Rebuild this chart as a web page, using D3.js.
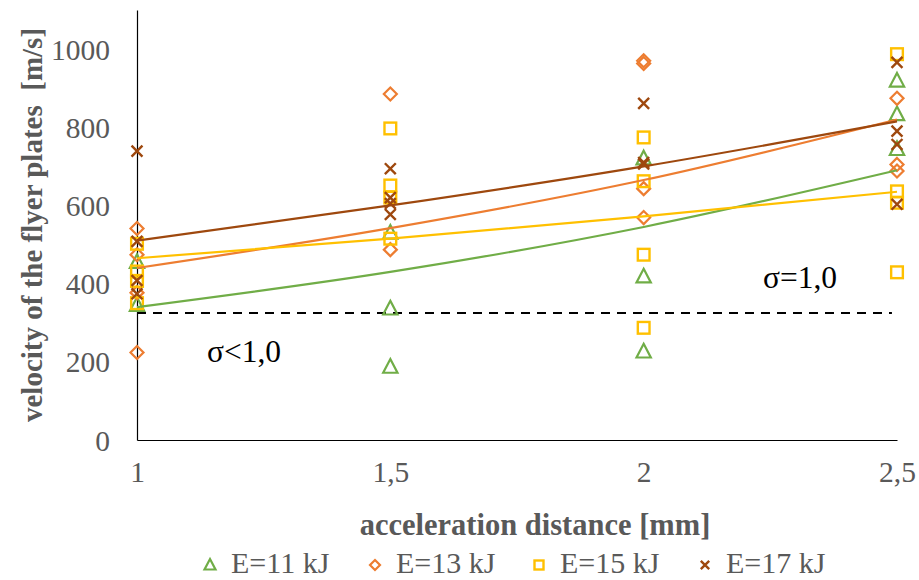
<!DOCTYPE html>
<html>
<head>
<meta charset="utf-8">
<script src="https://cdn.jsdelivr.net/npm/d3@7"></script>
<style>
  body { margin: 0; background: #fff; }
  svg { display: block; font-family: "Liberation Serif", "Times New Roman", serif; }
</style>
</head>
<body>
<div id="chart"></div>
<script>
// series names and colours
var seriesNames = ["E=11 kJ", "E=13 kJ", "E=15 kJ", "E=17 kJ"];
var seriesColors = ["#70AD47", "#ED7D31", "#FFC000", "#9E480E"];
var seriesShapes = ["triangle", "diamond", "square", "cross"];

// measured points [distance, velocity]
var e11 = [[1,455],[1,345],[1.5,530],[1.5,336],[1.5,187],[2,720],[2,418],[2,226],[2.5,919],[2.5,833],[2.5,744]];
var e13 = [[1,541],[1,474],[1,377],[1,224],[1.5,885],[1.5,487],[2,970],[2,963],[2,643],[2,569],[2.5,874],[2.5,705],[2.5,688]];
var e15 = [[1,502],[1,431],[1,407],[1,350],[1.5,797],[1.5,651],[1.5,620],[1.5,515],[2,774],[2,662],[2,474],[2,287],[2.5,987],[2.5,636],[2.5,607],[2.5,429]];
var e17 = [[1,739],[1,508],[1,408],[1,374],[1.5,694],[1.5,620],[1.5,605],[1.5,577],[2,861],[2,710],[2,706],[2.5,966],[2.5,790],[2.5,756],[2.5,603]];

// trend lines
var trendX = [1, 1.5, 2, 2.5];
var trend11 = [340, 430, 545, 690];
var trend13 = [440, 542, 665, 820];
var trend15 = [465, 515, 572, 635];
var trend17 = [510, 600, 700, 815];

var xTicks = [1, 1.5, 2, 2.5];
var yTicks = [0, 200, 400, 600, 800, 1000];
var sigmaLevel = 325;
var sigmaEnd = 2.49;

var W = 919, H = 580;
var svg = d3.select("#chart").append("svg").attr("width", W).attr("height", H);

var x = d3.scaleLinear().domain([1, 2.5]).range([137, 897]);
var y = d3.scaleLinear().domain([0, 1100]).range([440, 10]);

var fmt = function(d){ return String(d).replace(".", ","); };

// axes
var yAxis = svg.append("g").attr("transform", "translate(137,0)")
    .call(d3.axisLeft(y).tickValues(yTicks).tickFormat(d3.format("d")).tickSize(0).tickPadding(27))
    .attr("font-family", null);
yAxis.select(".domain").attr("stroke", "#000").attr("stroke-width", 1.2);
yAxis.selectAll("text").attr("fill", "#595959").style("font-size", "29.5px")
    .style("font-family", "Liberation Serif").attr("dy", "0.34em");

var xAxis = svg.append("g").attr("transform", "translate(0,440)")
    .call(d3.axisBottom(x).tickValues(xTicks).tickFormat(fmt).tickSize(0).tickPadding(21))
    .attr("font-family", null);
xAxis.select(".domain").attr("stroke", "#000").attr("stroke-width", 1.2);
xAxis.selectAll("text").attr("fill", "#595959").style("font-size", "29.5px")
    .style("font-family", "Liberation Serif");

// axis titles
svg.append("text").attr("x", 535).attr("y", 535).attr("text-anchor", "middle")
    .attr("fill", "#595959").style("font-size", "30.5px").style("font-weight", "bold")
    .text("acceleration distance [mm]");
svg.append("text").attr("transform", "translate(42,225) rotate(-90)").attr("text-anchor", "middle")
    .attr("fill", "#595959").style("font-size", "29px").style("font-weight", "bold")
    .style("white-space", "pre")
    .text("velocity of the flyer plates  [m/s]");

// sigma line and labels
svg.append("line").attr("x1", x(1)).attr("x2", x(sigmaEnd))
    .attr("y1", y(sigmaLevel)).attr("y2", y(sigmaLevel))
    .attr("stroke", "#000").attr("stroke-width", 2).attr("stroke-dasharray", "9,7");
svg.append("text").attr("x", 763).attr("y", 288).style("font-size", "31.5px").attr("fill", "#000").text("σ=1,0");
svg.append("text").attr("x", 207).attr("y", 362).style("font-size", "31.5px").attr("fill", "#000").text("σ<1,0");

// markers
function drawMarker(g, shape, color, cx, cy, s) {
    if (shape === "triangle") {
        g.append("path").attr("d", "M" + cx + "," + (cy - s*0.6) + "L" + (cx + s*0.55) + "," + (cy + s*0.45) + "L" + (cx - s*0.55) + "," + (cy + s*0.45) + "Z")
            .attr("fill", "none").attr("stroke", color).attr("stroke-width", 2.2);
    } else if (shape === "diamond") {
        g.append("path").attr("d", "M" + cx + "," + (cy - s*0.5) + "L" + (cx + s*0.5) + "," + cy + "L" + cx + "," + (cy + s*0.5) + "L" + (cx - s*0.5) + "," + cy + "Z")
            .attr("fill", "none").attr("stroke", color).attr("stroke-width", 2.2);
    } else if (shape === "square") {
        g.append("rect").attr("x", cx - s*0.45).attr("y", cy - s*0.45).attr("width", s*0.9).attr("height", s*0.9)
            .attr("fill", "none").attr("stroke", color).attr("stroke-width", 2.4);
    } else {
        var h = s*0.42;
        g.append("path").attr("d", "M" + (cx - h) + "," + (cy - h) + "L" + (cx + h) + "," + (cy + h) + "M" + (cx + h) + "," + (cy - h) + "L" + (cx - h) + "," + (cy + h))
            .attr("stroke", color).attr("stroke-width", 2.4);
    }
}

var allSeries = [e11, e13, e15, e17];
var trends = [trend11, trend13, trend15, trend17];

var line = d3.line().x(function(d){ return x(d[0]); }).y(function(d){ return y(d[1]); }).curve(d3.curveMonotoneX);

var gPts = svg.append("g");
allSeries.forEach(function(pts, i) {
    pts.forEach(function(p) {
        drawMarker(gPts, seriesShapes[i], seriesColors[i], x(p[0]), y(p[1]), 13);
    });
});

var gTrend = svg.append("g");
trends.forEach(function(t, i) {
    gTrend.append("path")
        .datum(trendX.map(function(v, j){ return [v, t[j]]; }))
        .attr("fill", "none").attr("stroke", seriesColors[i]).attr("stroke-width", 2.2)
        .attr("d", line);
});

// legend
var legendX = [210, 375, 539, 705];
var legend = svg.append("g");
seriesNames.forEach(function(n, i) {
    drawMarker(legend, seriesShapes[i], seriesColors[i], legendX[i], 565, 10);
    legend.append("text").attr("x", legendX[i] + 21).attr("y", 573)
        .attr("fill", "#595959").style("font-size", "30px").text(n);
});
</script>
</body>
</html>
